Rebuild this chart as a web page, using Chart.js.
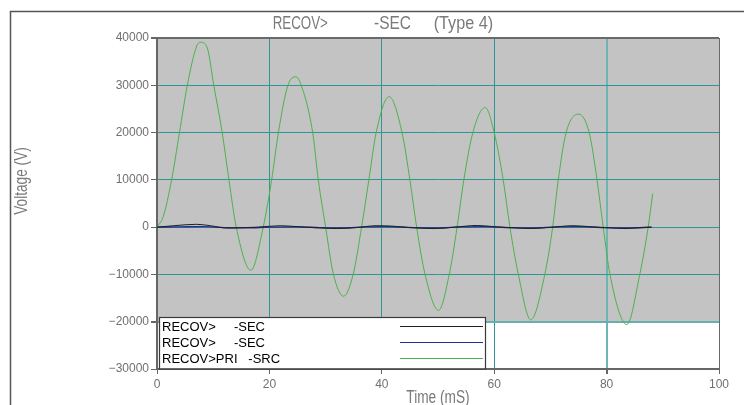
<!DOCTYPE html>
<html><head><meta charset="utf-8">
<script src="https://cdn.jsdelivr.net/npm/chart.js@4.4.1/dist/chart.umd.min.js"></script>
<style>html,body{margin:0;padding:0;background:#fff;overflow:hidden}#wrap{width:744px;height:405px;position:relative}</style>
</head><body><div id="wrap"><canvas id="c" width="744" height="405"></canvas></div>
<script>
// ---- text ----
const chartTitle = ["RECOV>", "-SEC", "(Type 4)"];
const xTitle = "Time (mS)";
const yTitle = "Voltage (V)";
const seriesLabels = ["RECOV>     -SEC", "RECOV>     -SEC", "RECOV>PRI   -SRC"];
// ---- axes ----
const xTicks = [0, 20, 40, 60, 80, 100];
const yTicks = [-30000, -20000, -10000, 0, 10000, 20000, 30000, 40000];
// ---- series (time in mS, voltage in V) ----
const blackT = [0, 3, 7, 9.5, 12.5, 15.5, 18, 22, 25, 28, 32, 35.5, 39, 42, 45, 49.5, 53, 57, 60, 63, 66.5, 70, 74, 77, 80, 83.5, 86, 88];
const blackV = [0, 300, 600, 300, -200, -100, 0, 300, 100, -100, -300, -100, 300, 200, -100, -300, 0, 350, 100, -100, -300, -50, 300, 100, -100, -300, -100, 0];
const blueT = [0, 4, 8, 12, 16, 20, 25, 29, 33, 37, 41, 46, 50, 54, 58, 62, 67, 71, 75, 79, 84, 88];
const blueV = [0, 50, 100, -100, -150, 0, 50, -100, -150, 50, 100, -100, -150, 50, 100, -100, -150, 50, 100, -100, -150, 0];
const greenT = [0, 1.1, 2.6, 4.0, 5.4, 7.06, 7.8, 8.95, 10.1, 11.6, 12.8, 14.1, 16.7, 18.9, 20.4, 21.6, 23.3, 24.7, 25.4, 27.7, 28.7, 30.0, 31.4, 33.2, 34.9, 36.4, 37.7, 39.0, 41.3, 43.6, 45.0, 46.2, 47.7, 50.1, 52.0, 53.4, 54.6, 56.2, 58.4, 60.0, 61.6, 62.8, 64.3, 66.5, 69.0, 70.4, 71.4, 72.8, 75.0, 76.9, 78.3, 79.4, 80.6, 83.6, 85.9, 87.4, 88.2];
const greenV = [0, 2200, 10000, 20000, 30000, 38300, 39100, 37900, 30000, 20000, 10000, 0, -9100, 0, 10000, 20000, 30000, 31800, 30800, 20000, 10000, 0, -10000, -14600, -10000, 0, 10000, 20000, 27600, 20000, 10000, 0, -10000, -17600, -10000, 0, 10000, 20000, 25300, 20000, 10000, 0, -10000, -19600, -10000, 0, 10000, 20000, 23900, 20000, 10000, 0, -10000, -20600, -10000, 0, 7100];
const seriesColors = ["#1e1e1e", "#2b2b96", "#4cb24c"];

const pts = (t, v) => t.map((tt, i) => ({x: tt, y: v[i]}));
const sans = "'Liberation Sans',Arial,sans-serif";
const shade = {lo: -20000, hi: 40000};
const TEAL = '#2f9696';

// draw condensed text (real text, horizontally squeezed)
function squeezed(ctx, s, x, y, sx, align) {
  ctx.save(); ctx.translate(x, y); ctx.scale(sx, 1); ctx.textAlign = align; ctx.fillText(s, 0, 0); ctx.restore();
}

const decor = {
  id: 'decor',
  beforeDraw(chart) {
    const {ctx, scales: {x, y}} = chart;
    ctx.save();
    ctx.strokeStyle = '#555'; ctx.lineWidth = 1.5;
    ctx.beginPath(); ctx.moveTo(10.5, 405); ctx.lineTo(10.5, 11.5); ctx.lineTo(744, 11.5); ctx.stroke();
    const l = x.getPixelForValue(xTicks[0]), r = x.getPixelForValue(xTicks[xTicks.length - 1]);
    const t = y.getPixelForValue(shade.hi), b = y.getPixelForValue(shade.lo);
    ctx.fillStyle = '#c3c3c3'; ctx.fillRect(l, t, r - l, b - t);
    ctx.restore();
  },
  afterDraw(chart) {
    const {ctx, chartArea: ca} = chart;
    ctx.save();
    // titles
    ctx.fillStyle = '#7a7a7a';
    ctx.font = "18px " + sans;
    ctx.textBaseline = 'middle';
    const tx = [272.7, 374, 433.7], ts = [0.74, 0.86, 0.9];
    chartTitle.forEach((s, i) => squeezed(ctx, s, tx[i], 24, ts[i], 'left'));
    squeezed(ctx, xTitle, (ca.left + ca.right) / 2, 398, 0.76, 'center');
    ctx.save(); ctx.translate(22, 181); ctx.rotate(-Math.PI / 2); squeezed(ctx, yTitle, 0, 0, 0.76, 'center'); ctx.restore();
    // legend
    const lx = ca.left + 2, ly = ca.bottom - 52, lw = 326, lh = 51.5;
    ctx.fillStyle = '#fff'; ctx.fillRect(lx, ly, lw, lh);
    ctx.strokeStyle = '#3a3a3a'; ctx.lineWidth = 1.2; ctx.strokeRect(lx + 0.5, ly + 0.5, lw, lh);
    ctx.font = "13px " + sans; ctx.textAlign = 'left';
    chart.data.datasets.forEach((ds, i) => {
      const yy = ly + 10 + i * 16;
      ctx.fillStyle = '#000'; ctx.fillText(ds.label, lx + 3, yy);
      ctx.strokeStyle = ds.borderColor; ctx.lineWidth = 1.2;
      ctx.beginPath(); ctx.moveTo(lx + 241, yy - 0.5); ctx.lineTo(lx + 324, yy - 0.5); ctx.stroke();
    });
    ctx.restore();
  }
};

const xGridColor = xTicks.map(v => v === 0 ? 'rgba(0,0,0,0)' : (v === 100 ? '#6a6a6a' : (v === 80 ? '#6fb3b3' : TEAL)));
const xGridWidth = xTicks.map(v => (v === 80 ? 2 : 1));
const yGridColor = yTicks.map(v => v === 40000 ? '#6a6a6a' : (v === -30000 ? 'rgba(0,0,0,0)' : (v === -20000 ? '#66b0b0' : TEAL)));
const yGridWidth = yTicks.map(v => ((v === 40000 || v === -20000) ? 2 : 1));

new Chart(document.getElementById('c'), {
  type: 'line',
  data: {
    datasets: [
      {label: seriesLabels[0], data: pts(blackT, blackV), borderColor: seriesColors[0], borderWidth: 1},
      {label: seriesLabels[1], data: pts(blueT, blueV), borderColor: seriesColors[1], borderWidth: 1.4},
      {label: seriesLabels[2], data: pts(greenT, greenV), borderColor: seriesColors[2], borderWidth: 1}
    ]
  },
  options: {
    responsive: false, animation: false, devicePixelRatio: 1,
    layout: {padding: {left: 0, right: 25, top: 38, bottom: 0}},
    elements: {point: {radius: 0}, line: {cubicInterpolationMode: 'monotone', fill: false}},
    plugins: {legend: {display: false}, title: {display: false}, tooltip: {enabled: false}},
    scales: {
      x: {
        type: 'linear', min: xTicks[0], max: xTicks[xTicks.length - 1],
        afterBuildTicks: s => { s.ticks = xTicks.map(v => ({value: v})); },
        afterFit: s => { s.height = 36; },
        ticks: {color: '#707070', font: {family: sans, size: 12}, padding: 3, maxRotation: 0},
        grid: {color: xGridColor, lineWidth: xGridWidth, tickColor: '#666', tickLength: 5},
        border: {color: '#666', width: 2}
      },
      y: {
        type: 'linear', min: yTicks[0], max: yTicks[yTicks.length - 1],
        afterBuildTicks: s => { s.ticks = yTicks.map(v => ({value: v})); },
        afterFit: s => { s.width = 157; },
        ticks: {color: '#707070', font: {family: sans, size: 12}, padding: 2,
          callback: v => (v < 0 ? '\u2212' + Math.abs(v) : String(v))},
        grid: {color: yGridColor, lineWidth: yGridWidth, tickColor: '#666', tickLength: 6},
        border: {color: '#666', width: 2}
      }
    }
  },
  plugins: [decor]
});
</script></body></html>
